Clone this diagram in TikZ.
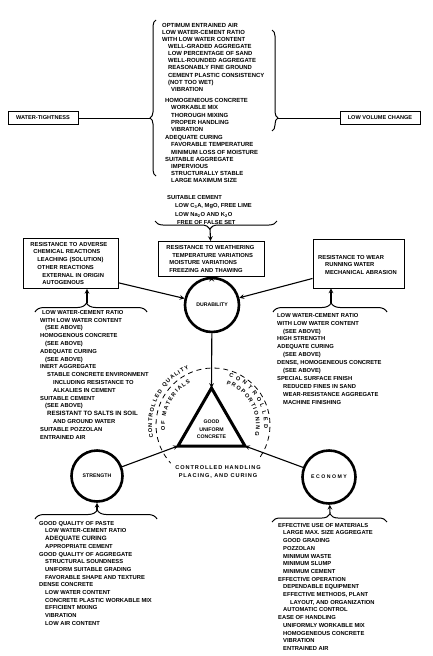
\documentclass[tikz,border=0pt]{standalone}
\usepackage{fontspec}
\setmainfont{Liberation Sans}
\usetikzlibrary{arrows, decorations.pathreplacing, decorations.text}
\newcommand{\indt}[1]{\hspace*{#1pt}}
\newcommand{\ctlfont}{\bfseries\fontsize{5.6}{6}\selectfont}
\tikzstyle{txt} = [align=left, anchor=north west, inner sep=0pt, font=\bfseries\fontsize{5.8}{7.7}\selectfont]
\tikzstyle{boxtxt} = [rectangle, draw=black, line width=0.9pt, align=left, anchor=north west, inner ysep=3pt, font=\bfseries\fontsize{5.8}{7.7}\selectfont]
\tikzstyle{box} = [rectangle, draw=black, line width=0.9pt]
\tikzstyle{target} = [rectangle, draw=black, line width=0.9pt, minimum height=13, inner sep=0pt, font=\bfseries\fontsize{5.6}{7}\selectfont]
\tikzstyle{goal} = [circle, draw=black, line width=2.6pt, inner sep=0pt, font=\bfseries\fontsize{5.2}{6}\selectfont]
\tikzstyle{control} = [align=center, inner sep=0pt, font=\bfseries\fontsize{5.6}{7.8}\selectfont\addfontfeature{LetterSpace=16}]
\tikzstyle{arrow} = [line width=1.1pt, ->, >=stealth]
\tikzstyle{link} = [line width=1pt]
\tikzstyle{curly} = [line width=1pt, decorate, decoration={brace, amplitude=9pt}]
\tikzstyle{arctext} = [decorate, decoration={text along path, text align={fit to path}}]

\begin{document}
\begin{tikzpicture}[x=1pt, y=-1pt]
\useasboundingbox (0,0) rectangle (433,656);
% requirements at the top
\node (props) [txt, font=\bfseries\fontsize{5.9}{7.1}\selectfont] at (162,23) {OPTIMUM ENTRAINED AIR\\
LOW WATER-CEMENT RATIO\\
WITH LOW WATER CONTENT\\
\indt{6}WELL-GRADED AGGREGATE\\
\indt{6}LOW PERCENTAGE OF SAND\\
\indt{6}WELL-ROUNDED AGGREGATE\\
\indt{6}REASONABLY FINE GROUND\\
\indt{6}CEMENT PLASTIC CONSISTENCY\\
\indt{6}(NOT TOO WET)\\
\indt{9}VIBRATION\\[4.5pt]
\indt{3}HOMOGENEOUS CONCRETE\\
\indt{9}WORKABLE MIX\\
\indt{9}THOROUGH MIXING\\
\indt{9}PROPER HANDLING\\
\indt{9}VIBRATION\\[1.5pt]
\indt{3}ADEQUATE CURING\\
\indt{9}FAVORABLE TEMPERATURE\\
\indt{9}MINIMUM LOSS OF MOISTURE\\
\indt{3}SUITABLE AGGREGATE\\
\indt{9}IMPERVIOUS\\
\indt{9}STRUCTURALLY STABLE\\
\indt{9}LARGE MAXIMUM SIZE};
\node (cement) [txt, font=\bfseries\fontsize{5.8}{8.6}\selectfont] at (167,194.8) {SUITABLE CEMENT\\
\indt{8}LOW C\textsubscript{3}A, MgO, FREE LIME\\
\indt{8}LOW Na\textsubscript{2}O AND K\textsubscript{2}O\\
\indt{10}FREE OF FALSE SET};
\node (water) [target, minimum width=70] at (43,118) {WATER-TIGHTNESS};
\node (volume) [target, minimum width=80] at (380,118) {LOW VOLUME CHANGE};
\draw [curly, decoration={amplitude=6pt, aspect=0.372}] (156,176) -- (156,20);
\coordinate (proptipL) at (150,118);
\draw [link] (proptipL) -- (water);
\draw [curly, decoration={amplitude=6pt, aspect=0.871}] (272,30) -- (272,131);
\coordinate (proptipR) at (278,118);
\draw [link] (proptipR) -- (volume);
\draw [curly, decoration={amplitude=8pt, aspect=0.55}] (277,221) -- (155,221);
\coordinate (weathertip) at (210,229);
% resistance boxes
\node (weather) [boxtxt, text width=90, inner xsep=8pt, minimum height=35] at (158,241) {RESISTANCE TO WEATHERING\\
\indt{6}TEMPERATURE VARIATIONS\\
\indt{3}MOISTURE VARIATIONS\\
\indt{3}FREEZING AND THAWING};
\draw [arrow] (weathertip) -- (weather);
\node (chemical) [boxtxt, text width=81, inner xsep=7pt, minimum height=50] at (23,238) {RESISTANCE TO ADVERSE\\
\indt{3}CHEMICAL REACTIONS\\
\indt{7}LEACHING (SOLUTION)\\
\indt{7}OTHER REACTIONS\\
\indt{12}EXTERNAL IN ORIGIN\\
\indt{12}AUTOGENOUS};
\node (wear) [box, minimum width=91, minimum height=49] at (358.5,263.5) {};
\node (weartext) [txt] at (318,255) {RESISTANCE TO WEAR\\
\indt{7}RUNNING WATER\\
\indt{7}MECHANICAL ABRASION};
% durability
\node (durability) [goal, minimum size=54] at (212,305) {DURABILITY};
\draw [arrow] (weather) -- (durability);
\draw [arrow] ([yshift=6pt]chemical.south east) -- (durability);
\draw [arrow] ([yshift=10pt]wear.south west) -- (durability);
\draw [curly, decoration={aspect=0.46}] (35,312) -- (147,312);
\coordinate (chemtip) at (87,303);
\draw [arrow] (chemtip) -- (chemtip |- chemical.south);
\node (chemlist) [txt, font=\bfseries\fontsize{5.8}{7.8}\selectfont] at (40,310) {\indt{2}LOW WATER-CEMENT RATIO\\
WITH LOW WATER CONTENT\\
\indt{5}(SEE ABOVE)\\
HOMOGENOUS CONCRETE\\
\indt{5}(SEE ABOVE)\\
ADEQUATE CURING\\
\indt{5}(SEE ABOVE)\\
INERT AGGREGATE\\
\indt{7}STABLE CONCRETE ENVIRONMENT\\
\indt{13}INCLUDING RESISTANCE TO\\
\indt{13}ALKALIES IN CEMENT\\
SUITABLE CEMENT\\
\indt{5}(SEE ABOVE)\\
\indt{7}{\fontsize{6.2}{7.8}\selectfont RESISTANT TO SALTS IN SOIL}\\
\indt{13}AND GROUND WATER\\
SUITABLE POZZOLAN\\
ENTRAINED AIR};
\draw [curly, decoration={aspect=0.51}] (273,312) -- (387,312);
\coordinate (weartip) at (331,303);
\draw [arrow] (weartip) -- (weartip |- wear.south);
\node (wearlist) [txt, font=\bfseries\fontsize{5.8}{7.9}\selectfont] at (277,313) {LOW WATER-CEMENT RATIO\\
WITH LOW WATER CONTENT\\
\indt{6}(SEE ABOVE)\\
HIGH STRENGTH\\
ADEQUATE CURING\\
\indt{6}(SEE ABOVE)\\
DENSE, HOMOGENEOUS CONCRETE\\
\indt{6}(SEE ABOVE)\\
SPECIAL SURFACE FINISH\\
\indt{6}REDUCED FINES IN SAND\\
\indt{6}WEAR-RESISTANCE AGGREGATE\\
\indt{6}MACHINE FINISHING};
% good uniform concrete
\coordinate (triL) at (178,446);
\coordinate (triR) at (245,446);
\coordinate (triT) at (211.5,388);
\draw [line width=3pt, line join=miter] (triL) -- (triR) -- (triT) -- cycle;
\node (concrete) [align=center, font=\bfseries\fontsize{5.2}{7.6}\selectfont] at (211.5,429.5) {GOOD\\UNIFORM\\CONCRETE};
\coordinate (ctr) at (213,425);
\draw [dashed, line width=0.8pt, dash pattern=on 5pt off 4pt] ([shift={(ctr)}]34:57) arc [start angle=34, end angle=-222, radius=57];
\path [arctext, decoration={text={|\ctlfont|CONTROLLED QUALITY}}] ([shift={(ctr)}]-192:61) arc [start angle=-192, end angle=-113, radius=61];
\path [arctext, decoration={text={|\ctlfont|OF MATERIALS}}] ([shift={(ctr)}]-186:48) arc [start angle=-186, end angle=-118, radius=48];
\path [arctext, decoration={text={|\ctlfont|CONTROLLED}}] ([shift={(ctr)}]-72:51) arc [start angle=-72, end angle=4, radius=51];
\path [arctext, decoration={text={|\ctlfont|PROPORTIONING}}] ([shift={(ctr)}]-72:43) arc [start angle=-72, end angle=14, radius=43];
\node (handling) [control] at (218,472) {CONTROLLED HANDLING\\PLACING, AND CURING};
\draw [arrow] (durability) -- (triT);
% strength and economy
\node (strength) [goal, minimum size=51] at (97,476) {STRENGTH};
\node (economy) [goal, minimum size=53] at (329,477) {E C O N O M Y};
\draw [arrow] (strength) -- (triL);
\draw [arrow] (economy) -- (triR);
\draw [curly, decoration={aspect=0.51}] (35,519) -- (157,519);
\coordinate (strengthtip) at (97,510);
\draw [arrow] (strengthtip) -- (strength);
\node (strengthlist) [txt] at (39,521) {GOOD QUALITY OF PASTE\\
\indt{6}LOW WATER-CEMENT RATIO\\
\indt{6}{\fontsize{6.3}{7.7}\selectfont ADEQUATE CURING}\\
\indt{6}APPROPRIATE CEMENT\\
GOOD QUALITY OF AGGREGATE\\
\indt{6}STRUCTURAL SOUNDNESS\\
\indt{6}UNIFORM SUITABLE GRADING\\
\indt{6}FAVORABLE SHAPE AND TEXTURE\\
DENSE CONCRETE\\
\indt{6}LOW WATER CONTENT\\
\indt{6}CONCRETE PLASTIC WORKABLE MIX\\
\indt{6}EFFICIENT MIXING\\
\indt{6}VIBRATION\\
\indt{6}LOW AIR CONTENT};
\draw [curly, decoration={amplitude=8pt, aspect=0.504}] (272,522) -- (387,522);
\coordinate (economytip) at (330,514);
\draw [arrow] (economytip) -- (economy);
\node (economylist) [txt] at (278,523) {EFFECTIVE USE OF MATERIALS\\
\indt{5}LARGE MAX. SIZE AGGREGATE\\
\indt{5}GOOD GRADING\\
\indt{5}POZZOLAN\\
\indt{5}MINIMUM WASTE\\
\indt{5}MINIMUM SLUMP\\
\indt{5}MINIMUM CEMENT\\
EFFECTIVE OPERATION\\
\indt{5}DEPENDABLE EQUIPMENT\\
\indt{5}EFFECTIVE METHODS, PLANT\\
\indt{12}LAYOUT, AND ORGANIZATION\\
\indt{5}AUTOMATIC CONTROL\\
EASE OF HANDLING\\
\indt{5}UNIFORMLY WORKABLE MIX\\
\indt{5}HOMOGENEOUS CONCRETE\\
\indt{5}VIBRATION\\
\indt{5}ENTRAINED AIR};
\end{tikzpicture}
\end{document}
